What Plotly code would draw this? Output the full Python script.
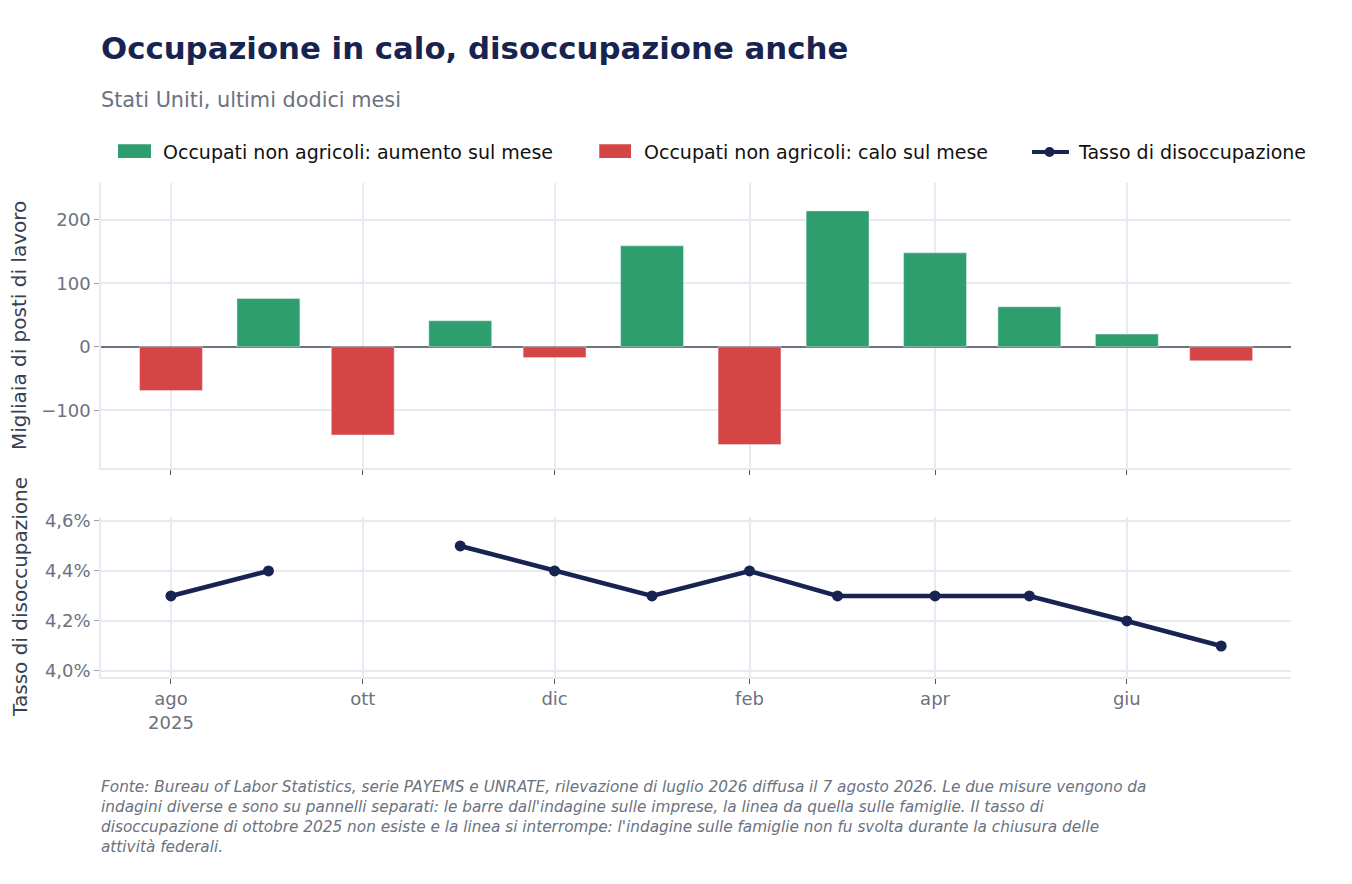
import plotly.graph_objects as go
from plotly.subplots import make_subplots

# mesi (primo giorno del mese)
mesi = ["2025-08-01", "2025-09-01", "2025-10-01", "2025-11-01", "2025-12-01", "2026-01-01",
        "2026-02-01", "2026-03-01", "2026-04-01", "2026-05-01", "2026-06-01", "2026-07-01"]
# variazione mensile occupati non agricoli (migliaia)
variazione = [-69, 76, -139, 41, -17, 159, -154, 214, 148, 63, 20, -22]
# tasso di disoccupazione (%), ottobre 2025 mancante
disoccupazione = [4.3, 4.4, None, 4.5, 4.4, 4.3, 4.4, 4.3, 4.3, 4.3, 4.2, 4.1]

tick_date = ["2025-08-01", "2025-10-01", "2025-12-01", "2026-02-01", "2026-04-01", "2026-06-01"]
tick_testo = ["ago<br>2025", "ott", "dic", "feb", "apr", "giu"]
tick_tasso = [4.0, 4.2, 4.4, 4.6]
tick_tasso_testo = ["4,0%", "4,2%", "4,4%", "4,6%"]

nomi = ["Occupati non agricoli: aumento sul mese",
        "Occupati non agricoli: calo sul mese",
        "Tasso di disoccupazione"]

VERDE = "#2e9e6e"
ROSSO = "#d64545"
BLU = "#172350"
GRIGIO = "#6b7280"
GRIGLIA = "#e8eaf1"

aumenti = [v if v >= 0 else None for v in variazione]
cali = [v if v < 0 else None for v in variazione]

fig = make_subplots(rows=2, cols=1, shared_xaxes=True)

fig.add_trace(go.Bar(x=mesi, y=aumenti, name=nomi[0], marker_color=VERDE,
                     width=20 * 86400000), row=1, col=1)
fig.add_trace(go.Bar(x=mesi, y=cali, name=nomi[1], marker_color=ROSSO,
                     width=20 * 86400000), row=1, col=1)
fig.add_trace(go.Scatter(x=mesi, y=disoccupazione, name=nomi[2],
                         mode="lines+markers", connectgaps=False,
                         line=dict(color=BLU, width=4.5), marker=dict(color=BLU, size=11)),
              row=2, col=1)

fig.update_xaxes(range=["2025-07-09 18:00", "2026-07-23 05:00"], tickvals=tick_date,
                 ticktext=tick_testo, showgrid=True, gridcolor=GRIGLIA, gridwidth=1.5,
                 showline=True, linecolor=GRIGLIA, linewidth=1.5, ticks="outside", ticklen=5,
                 tickcolor="#555", tickfont=dict(size=18, color=GRIGIO))
fig.update_xaxes(showticklabels=False, row=1, col=1)

fig.update_yaxes(showgrid=True, gridcolor=GRIGLIA, gridwidth=1.5, showline=True,
                 linecolor=GRIGLIA, linewidth=1.5, ticks="outside", ticklen=5,
                 tickcolor="#9ca3af", tickfont=dict(size=18, color=GRIGIO),
                 automargin=False)
fig.update_yaxes(domain=[0.423, 1], range=[-191, 258], tickvals=[-100, 0, 100, 200],
                 zeroline=True, zerolinecolor=GRIGIO, zerolinewidth=2, row=1, col=1)
fig.update_yaxes(domain=[0, 0.324], range=[3.976, 4.616], tickvals=tick_tasso,
                 ticktext=tick_tasso_testo, zeroline=False, row=2, col=1)

nota = ("Fonte: Bureau of Labor Statistics, serie PAYEMS e UNRATE, rilevazione di luglio 2026 diffusa il 7 agosto 2026. Le due misure vengono da<br>"
        "indagini diverse e sono su pannelli separati: le barre dall'indagine sulle imprese, la linea da quella sulle famiglie. Il tasso di<br>"
        "disoccupazione di ottobre 2025 non esiste e la linea si interrompe: l'indagine sulle famiglie non fu svolta durante la chiusura delle<br>"
        "attività federali.")

# legenda disegnata a mano (campioni rettangolari larghi come nell'originale)
ly = 1.0628
legenda_shapes = [
    dict(type="rect", xref="paper", yref="paper", x0=0.0143, x1=0.0420, y0=1.0505, y1=1.0783,
         fillcolor=VERDE, line_width=0),
    dict(type="rect", xref="paper", yref="paper", x0=0.4187, x1=0.4454, y0=1.0505, y1=1.0783,
         fillcolor=ROSSO, line_width=0),
    dict(type="line", xref="paper", yref="paper", x0=0.7824, x1=0.8134, y0=ly, y1=ly,
         line=dict(color=BLU, width=4)),
    dict(type="circle", xref="paper", yref="paper", x0=0.7971 - 0.0042, x1=0.7971 + 0.0042,
         y0=ly - 0.0101, y1=ly + 0.0101, fillcolor=BLU, line_width=0),
]
legenda_testi = [
    dict(text=nomi[0], x=0.0504),
    dict(text=nomi[1], x=0.4546),
    dict(text=nomi[2], x=0.8195),
]
annotazioni = [dict(t, xref="paper", yref="paper", y=ly, xanchor="left", yanchor="middle",
                    showarrow=False, font=dict(size=19, color="#111")) for t in legenda_testi]

# titoli degli assi y
annotazioni += [
    dict(text="Migliaia di posti di lavoro", xref="paper", yref="paper", x=-0.0693, y=0.7115,
         xanchor="center", yanchor="middle", textangle=-90, showarrow=False,
         font=dict(size=20, color="#374151")),
    dict(text="Tasso di disoccupazione", xref="paper", yref="paper", x=-0.0681, y=0.162,
         xanchor="center", yanchor="middle", textangle=-90, showarrow=False,
         font=dict(size=20, color="#374151")),
]

annotazioni += [
    dict(text="Stati Uniti, ultimi dodici mesi", xref="paper", yref="paper", x=-0.0017, y=1.168,
         xanchor="left", yanchor="middle", showarrow=False, font=dict(size=20.8, color=GRIGIO)),
    dict(text=nota, xref="paper", yref="paper", x=-0.0017, y=-0.201, xanchor="left", yanchor="top",
         align="left", showarrow=False, font=dict(size=15.3, color=GRIGIO, style="italic")),
]

fig.update_layout(
    width=1352, height=884,
    barmode="overlay",
    showlegend=False,
    font=dict(family="DejaVu Sans", color="#111"),
    paper_bgcolor="white", plot_bgcolor="white",
    margin=dict(l=93, r=69, t=175, b=215),
    title=dict(text="<b>Occupazione in calo, disoccupazione anche</b>", x=0, xref="paper",
               y=1 - 40 / 884, yref="container", yanchor="middle",
               font=dict(size=30.8, color=BLU)),
    shapes=legenda_shapes,
    annotations=annotazioni,
)

fig.write_html("out.html")
